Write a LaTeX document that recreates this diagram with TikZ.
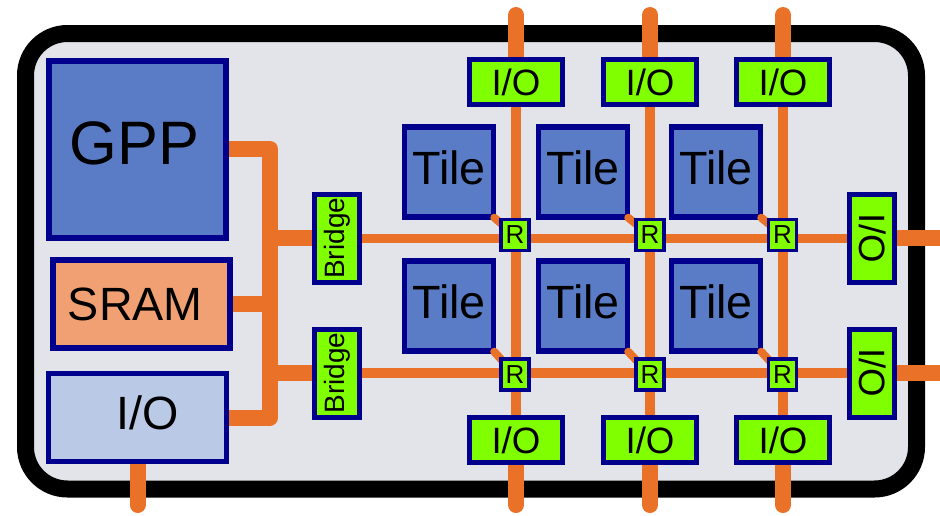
\documentclass[tikz,border=0pt]{standalone}
\usepackage{fontspec}
\setmainfont{Liberation Sans}
\definecolor{navy}{RGB}{0,0,140}
\definecolor{tileblue}{RGB}{90,123,198}
\definecolor{salmon}{RGB}{240,160,115}
\definecolor{paleblue}{RGB}{185,201,230}
\definecolor{chipgreen}{RGB}{128,255,0}
\definecolor{wire}{RGB}{234,113,40}
\definecolor{diebg}{RGB}{226,228,233}
\newcommand{\fs}[1]{\fontsize{#1}{#1}\selectfont}
\begin{document}
\begin{tikzpicture}[x=0.75pt,y=-0.75pt,
  blk/.style={draw=navy, line width=4.5pt, inner sep=0pt, font=\fs{35}},
  tile/.style={draw=navy, fill=tileblue, line width=4.1pt, inner sep=0pt,
    minimum width=66.75pt, minimum height=67.5pt, text depth=6pt, font=\fs{35}},
  iobox/.style={draw=navy, fill=chipgreen, line width=3.75pt, inner sep=0pt,
    minimum width=69.75pt, minimum height=33.75pt, font=\fs{27.5}},
  sidebox/.style={draw=navy, fill=chipgreen, line width=3.75pt, inner sep=0pt,
    minimum width=66pt, minimum height=33.5pt},
  router/.style={draw=navy, fill=chipgreen, line width=2.6pt, inner sep=0pt,
    minimum width=21pt, minimum height=23.25pt, font=\fs{19.5}},
  bus/.style={draw=wire, line width=12pt, line join=round},
  pin/.style={draw=wire, line width=12pt, line cap=round},
  link/.style={draw=wire, line width=7.2pt},
  tap/.style={draw=wire, line width=6pt, line cap=round}]

\useasboundingbox (0,0) rectangle (940,515);

% die outline
\draw[line width=12.75pt, fill=diebg, rounded corners=31.5pt]
  (25.5,33.5) rectangle (916.5,489);

% free ends of the package pins
\coordinate (pt1) at (516,15);  \coordinate (pt2) at (650,15);  \coordinate (pt3) at (783,15);
\coordinate (pb1) at (516,505); \coordinate (pb2) at (650,505); \coordinate (pb3) at (783,505);
\coordinate (pr1) at (960,238.3); \coordinate (pr2) at (960,373);
\coordinate (pl)  at (137.5,505);
\coordinate (spine) at (270,150);

% node placement (drawn later, after the wiring)
\path
  (137,149)     coordinate (cgpp)
  (141.3,304)   coordinate (csram)
  (137.5,417.5) coordinate (cio)
  (337.3,238.3) coordinate (cbr1)
  (337.3,373)   coordinate (cbr2);

% ---------- wiring ----------
% host-side bus
\draw[bus] (cgpp) -- (cgpp -| spine) -- (cio -| spine) -- (cio);
\draw[bus] (csram) -- (csram -| spine);
\draw[bus] (cbr1) -- (cbr1 -| spine);
\draw[bus] (cbr2) -- (cbr2 -| spine);
\draw[pin] (cio) -- (pl);

% mesh rows and columns
\path (872.2,238.3) coordinate (crio1) (872.2,373) coordinate (crio2);
\draw[link] (cbr1) -- (crio1);
\draw[link] (cbr2) -- (crio2);
\foreach \x [count=\i] in {516,650,783} {
  \path (\x,82.3) coordinate (ct\i) (\x,440) coordinate (cb\i);
  \draw[link] (ct\i) -- (cb\i);
  \draw[pin] (ct\i) -- (pt\i);
  \draw[pin] (cb\i) -- (pb\i);
}
\draw[pin] (crio1) -- (pr1);
\draw[pin] (crio2) -- (pr2);

% ---------- host blocks ----------
\node[blk, fill=tileblue, minimum width=132.75pt, minimum height=132.75pt,
      text depth=9pt, font=\fs{46}] (gpp) at (cgpp) {GPP\hspace*{4pt}};
\node[blk, fill=salmon, line width=4.1pt, minimum width=132.75pt, minimum height=66pt]
  (sram) at (csram) {SRAM\hspace*{9pt}};
\node[blk, fill=paleblue, line width=4.1pt, minimum width=133.5pt, minimum height=66pt,
      text depth=8pt] (hostio) at (cio) {\hspace*{15pt}I/O};

% bridges
\node[sidebox, rotate=90, font=\fs{21}] (br1) at (cbr1) {Bridge};
\node[sidebox, rotate=90, font=\fs{21}] (br2) at (cbr2) {Bridge};

% edge I/O ports
\foreach \i in {1,2,3} {
  \node[iobox] (iot\i) at (ct\i) {I/O};
  \node[iobox] (iob\i) at (cb\i) {I/O};
}
\node[sidebox, rotate=-90, font=\fs{27.5}] (ior1) at (crio1) {I/O};
\node[sidebox, rotate=-90, font=\fs{27.5}] (ior2) at (crio2) {I/O};

% ---------- tiles and routers ----------
\foreach \x [count=\c] in {449,583,716} {
  \foreach \y [count=\r] in {172,306} {
    \path (\x,\y) coordinate (ctile\r\c);
  }
}
\path (515,235) coordinate (crt11) (650,235) coordinate (crt12) (782.5,235) coordinate (crt13)
      (515,374.7) coordinate (crt21) (650,374.7) coordinate (crt22) (782.5,374.7) coordinate (crt23);

\foreach \r in {1,2} {
  \foreach \c in {1,2,3} {
    \node[tile] (tile\r\c) at (ctile\r\c) {Tile};
    \coordinate (rpos\r\c) at (crt\r\c);
  }
}
% tile-to-router taps, then the routers on top
\foreach \r in {1,2} {
  \foreach \c in {1,2,3} {
    \draw[tap] ([shift={(-2,-2)}]tile\r\c.south east) -- (rpos\r\c);
    \node[router] (rt\r\c) at (rpos\r\c) {R};
  }
}
\end{tikzpicture}
\end{document}
